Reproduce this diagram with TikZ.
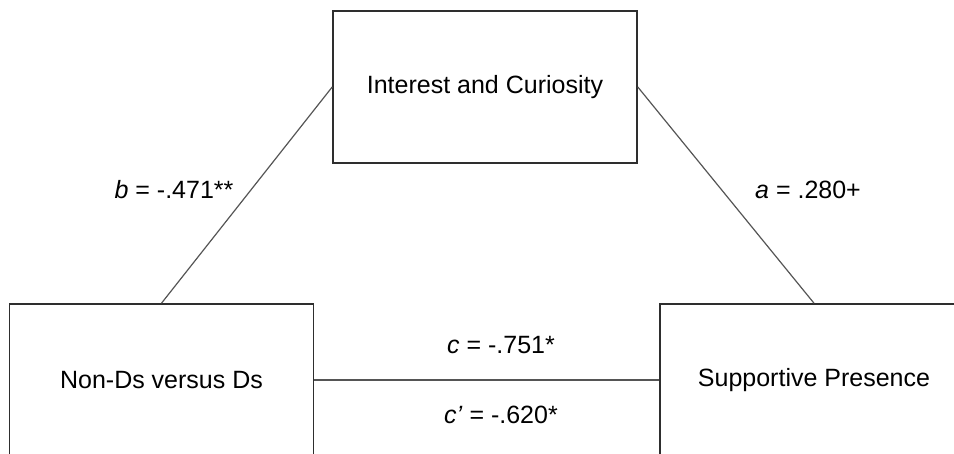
\documentclass[tikz,border=0pt]{standalone}
\usepackage{fontspec}
\setmainfont{Liberation Sans}
\usetikzlibrary{positioning}
\definecolor{BoxRule}{HTML}{2E2E2E}
\definecolor{PathLine}{HTML}{555555}

\begin{document}
\begin{tikzpicture}[x=1pt, y=-1pt,
  var/.style={draw=BoxRule, line width=1.6pt, minimum width=304pt, minimum height=152pt,
              inner sep=0pt, font=\fontsize{25}{30}\selectfont},
  coef/.style={inner sep=0pt, font=\fontsize{25}{30}\selectfont},
  path/.style={draw=PathLine, line width=1.2pt}]
  \useasboundingbox (0,0) rectangle (954,453);
  \clip (0,0) rectangle (954,453);
  \node[var] (interest) at (485,87) {Interest and Curiosity};
  \node[var] (group) at (161.5,380) {Non-Ds versus Ds};
  \node[var, minimum width=308pt] (support) at (814,380) {Supportive Presence};
  \draw[path] (interest.west) -- (group.north);
  \draw[path] (interest.east) -- (support.north);
  \draw[path] (group.east) -- (support.west);
  \node[coef] (b) at (174,190) {\textit{b} = -.471**};
  \node[coef] (a) at (808,190) {\textit{a} = .280+};
  \node[coef] (c) at (501,345) {\textit{c} = -.751*};
  \node[coef] (cp) at (501,415) {\textit{c’} = -.620*};
\end{tikzpicture}
\end{document}
